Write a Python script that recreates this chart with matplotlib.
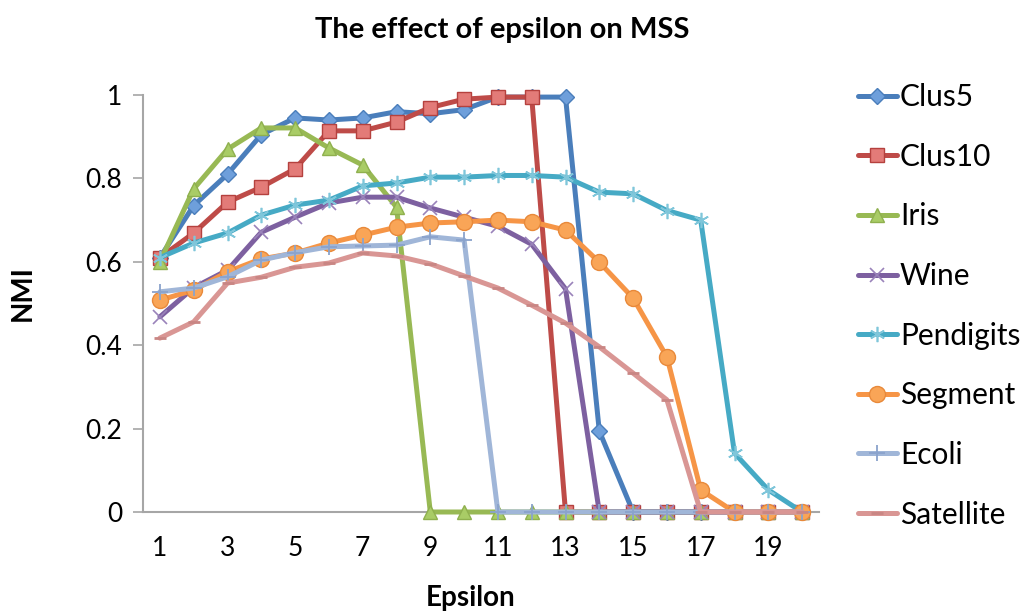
import matplotlib
matplotlib.use("Agg")
import matplotlib.pyplot as plt

plt.rcParams['font.family'] = ['Lato', 'DejaVu Sans']

epsilon = list(range(1, 21))
x_tick_labels = ['1', '3', '5', '7', '9', '11', '13', '15', '17', '19']
y_ticks = [0, 0.2, 0.4, 0.6, 0.8, 1.0]
y_tick_labels = ['0', '0.2', '0.4', '0.6', '0.8', '1']

clus5 = [0.61, 0.735, 0.81, 0.905, 0.945, 0.94, 0.945, 0.96, 0.955, 0.965,
         0.995, 0.995, 0.995, 0.194, 0, 0, 0, 0, 0, 0]
clus10 = [0.61, 0.669, 0.743, 0.779, 0.823, 0.914, 0.914, 0.935, 0.97, 0.99,
          0.995, 0.995, 0, 0, 0, 0, 0, 0, 0, 0]
iris = [0.60, 0.775, 0.87, 0.921, 0.921, 0.873, 0.832, 0.731, 0, 0,
        0, 0, 0, 0, 0, 0, 0, 0, 0, 0]
wine = [0.468, 0.538, 0.58, 0.671, 0.707, 0.741, 0.755, 0.755, 0.729, 0.707,
        0.685, 0.642, 0.535, 0, 0, 0, 0, 0, 0, 0]
pendigits = [0.61, 0.645, 0.669, 0.712, 0.736, 0.748, 0.782, 0.789, 0.803, 0.803,
             0.807, 0.807, 0.803, 0.767, 0.763, 0.723, 0.70, 0.141, 0.053, 0]
segment = [0.508, 0.532, 0.576, 0.607, 0.621, 0.645, 0.664, 0.683, 0.693, 0.696,
           0.70, 0.696, 0.676, 0.599, 0.513, 0.372, 0.053, 0, 0, 0]
ecoli = [0.528, 0.537, 0.564, 0.604, 0.622, 0.636, 0.638, 0.64, 0.66, 0.652,
         0, 0, 0, 0, 0, 0, 0, 0, 0, 0]
satellite = [0.417, 0.456, 0.549, 0.563, 0.587, 0.597, 0.621, 0.614, 0.595, 0.566,
             0.537, 0.496, 0.453, 0.396, 0.333, 0.269, 0, 0, 0, 0]

series = [
    ("Clus5", clus5, dict(color='#4A7EBB', marker='D', mfc='#6E9FDB', mec='#4A7EBB', ms=8.5)),
    ("Clus10", clus10, dict(color='#BE4B48', marker='s', mfc='#E37B78', mec='#B5413E', ms=10.5)),
    ("Iris", iris, dict(color='#98B954', marker='^', mfc='#A9CC66', mec='#8FB04E', ms=10.5)),
    ("Wine", wine, dict(color='#7D60A0', marker='x', mfc='#7D60A0', mec='#9A83BA', ms=10, mew=1.2)),
    ("Pendigits", pendigits, dict(color='#46AAC5', marker=(6, 2, 0), mfc='#46AAC5', mec='#7FC6DA', ms=11, mew=1.2)),
    ("Segment", segment, dict(color='#F69546', marker='o', mfc='#F9A557', mec='#E8893A', ms=11.5)),
    ("Ecoli", ecoli, dict(color='#A0B6D8', marker='+', mfc='#A0B6D8', mec='#8AA3CC', ms=12, mew=1.3)),
    ("Satellite", satellite, dict(color='#D99694', marker='_', mfc='#D99694', mec='#C98684', ms=9, mew=2)),
]

fig = plt.figure(figsize=(10.23, 6.16), dpi=100)
ax = fig.add_axes([143/1023, 1-512/616, (819-143)/1023, (512-95)/616])

handles = []
for name, vals, st in series:
    st = dict(st)
    mew = st.pop('mew', 1.0)
    ln, = ax.plot(epsilon, vals, lw=3.6, mew=mew, clip_on=False, label=name,
                  solid_joinstyle='round', solid_capstyle='round', zorder=3, **st)
    handles.append(ln)

ax.set_xlim(0.5, 20.5)
ax.set_ylim(0, 1)
ax.set_xticks(list(range(1, 21, 2)))
ax.set_xticklabels(x_tick_labels, fontsize=19)
ax.set_yticks(y_ticks)
ax.set_yticklabels(y_tick_labels, fontsize=19)
ax.tick_params(axis='x', length=0, pad=17)
ax.tick_params(axis='y', length=7, width=1.2, color='#A6A6A6', pad=8, direction='out')
for s in ['top', 'right']:
    ax.spines[s].set_visible(False)
for s in ['left', 'bottom']:
    ax.spines[s].set_color('#A6A6A6')
    ax.spines[s].set_linewidth(1.5)

ax.set_xlabel('Epsilon', fontsize=20, fontweight='bold')
ax.xaxis.set_label_coords((471-143)/(819-143), -(598-512)/(512-95))
ax.set_ylabel('NMI', fontsize=20, fontweight='bold')
ax.yaxis.set_label_coords(-(143-23)/(819-143), (512-293)/(512-95))
ax.xaxis.label.set_va('center')
ax.yaxis.label.set_va('center')
fig.text(502/1023, 1-30/616, 'The effect of epsilon on MSS', ha='center', va='center',
         fontsize=21, fontweight='bold')

leg = fig.legend(handles=handles, loc='upper left', bbox_to_anchor=(858/1023, 1-83/616),
                 frameon=False, fontsize=21.5, handlelength=1.3, handletextpad=0.1,
                 labelspacing=1.06, borderaxespad=0, borderpad=0)

fig.savefig('out.png', dpi=100)
